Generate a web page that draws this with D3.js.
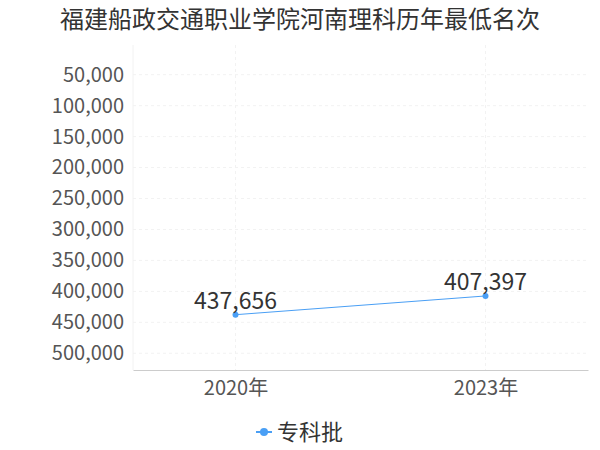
<!DOCTYPE html>
<html><head><meta charset="utf-8">
<script src="https://cdn.jsdelivr.net/npm/d3@7"></script>
<style>body{margin:0;background:#fff}</style></head>
<body><svg width="600" height="450"></svg>
<script>
const categories = ["2020年","2023年"];
const values = [437656, 407397];
const yTicks = [50000,100000,150000,200000,250000,300000,350000,400000,450000,500000];
const seriesName = "专科批";
const title = "福建船政交通职业学院河南理科历年最低名次";

const svg = d3.select("svg");
const font = "'Noto Sans CJK SC', 'Noto Sans', sans-serif";
const L=133,R=588,T=45,B=370;
const x = d3.scalePoint().domain(categories).range([L,R]).padding(0.41);
const y = d3.scaleLinear().domain([2000,527000]).range([T,B]);
const fmt = d3.format(",");

svg.append("text").attr("x",300).attr("y",28).attr("text-anchor","middle")
  .attr("font-family",font).attr("font-size",24).attr("fill","#333").text(title);

svg.append("g").selectAll("line").data(yTicks).join("line")
  .attr("x1",L).attr("x2",R).attr("y1",d=>y(d)).attr("y2",d=>y(d))
  .attr("stroke","#f2f2f2").attr("stroke-dasharray","3,3");
svg.append("g").selectAll("line").data(categories).join("line")
  .attr("x1",d=>x(d)).attr("x2",d=>x(d)).attr("y1",T).attr("y2",B)
  .attr("stroke","#f2f2f2").attr("stroke-dasharray","3,3");
svg.append("line").attr("x1",L).attr("x2",L).attr("y1",T).attr("y2",B).attr("stroke","#f2f2f2");

const ya = svg.append("g").attr("transform",`translate(${L},0)`)
  .call(d3.axisLeft(y).tickValues(yTicks).tickFormat(fmt).tickSize(0).tickPadding(9));
ya.select(".domain").remove();
ya.selectAll("text").attr("font-family",font).attr("font-size",20).attr("fill","#555");

const xa = svg.append("g").attr("transform",`translate(0,${B})`)
  .call(d3.axisBottom(x).tickSize(0).tickPadding(11));
xa.select(".domain").attr("stroke","#ccc");
xa.selectAll("text").attr("font-family",font).attr("font-size",20).attr("fill","#555");

const color="#4a9ff5";
svg.append("path").datum(values)
  .attr("d",d3.line().x((d,i)=>x(categories[i])).y(d=>y(d)))
  .attr("fill","none").attr("stroke",color).attr("stroke-width",1);
svg.selectAll(".pt").data(values).join("circle")
  .attr("cx",(d,i)=>x(categories[i])).attr("cy",d=>y(d)).attr("r",3).attr("fill",color);
svg.selectAll(".lbl").data(values).join("text")
  .attr("x",(d,i)=>x(categories[i])).attr("y",d=>y(d)-6).attr("text-anchor","middle")
  .attr("font-family",font).attr("font-size",23).attr("fill","#333").text(d=>fmt(d));

const lg = svg.append("g").attr("transform","translate(256,432)");
lg.append("line").attr("x1",0).attr("x2",16).attr("stroke",color).attr("stroke-width",2);
lg.append("circle").attr("cx",8).attr("r",4).attr("fill",color);
lg.append("text").attr("x",21).attr("y",8).attr("font-family",font).attr("font-size",22)
  .attr("fill","#333").text(seriesName);
</script></body></html>
